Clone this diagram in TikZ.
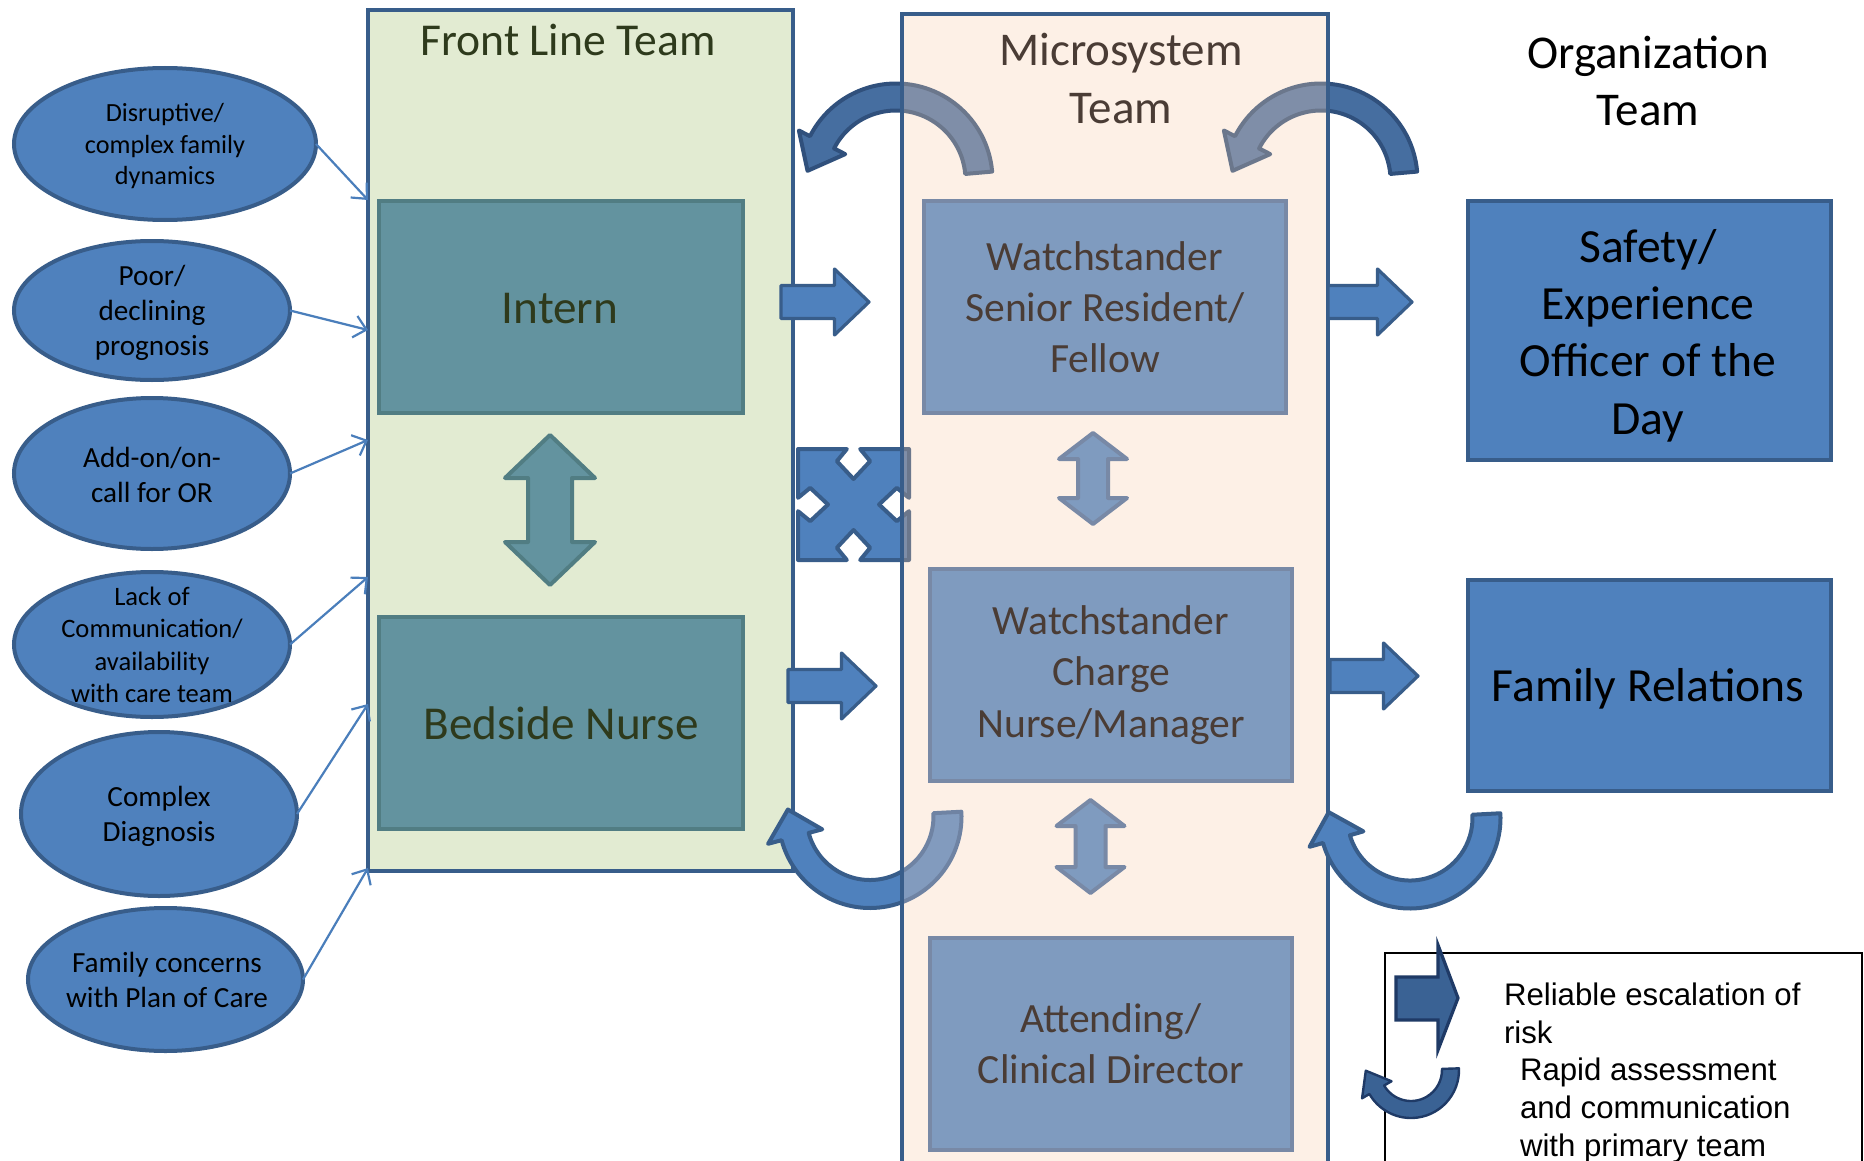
\documentclass[tikz,border=0pt]{standalone}
\usepackage{fontspec}
\setmainfont{Carlito}
\newfontfamily\arialfont{Liberation Sans}
\usetikzlibrary{shapes.geometric,arrows.meta,calc}

\definecolor{frontfill}{HTML}{E2EBD2}
\definecolor{microfill}{HTML}{FDF0E6}
\definecolor{boxblue}{HTML}{4F81BD}
\definecolor{edgeblue}{HTML}{385D8A}
\definecolor{darkarc}{HTML}{466EA0}
\definecolor{darkarcedge}{HTML}{30507C}
\definecolor{tealfill}{HTML}{63939F}
\definecolor{tealedge}{HTML}{517D83}
\definecolor{slatefill}{HTML}{7F9BBF}
\definecolor{slateedge}{HTML}{7889A6}
\definecolor{greyarc}{HTML}{7F8EA8}
\definecolor{greyarcedge}{HTML}{6B778C}
\definecolor{greylight}{HTML}{829BBE}
\definecolor{greylightedge}{HTML}{6F83A3}
\definecolor{olivetext}{HTML}{2E3A1C}
\definecolor{browntext}{HTML}{4A3C35}
\definecolor{connblue}{HTML}{4A7EBB}
\definecolor{legfill}{HTML}{3A6294}
\definecolor{legedge}{HTML}{1F3A66}

\tikzset{
  every node/.style={outer sep=0pt},
  frontbox/.style={rectangle, fill=frontfill, draw=edgeblue, line width=2pt},
  microbox/.style={rectangle, fill=microfill},
  tealbox/.style={rectangle, fill=tealfill, draw=tealedge, line width=2pt, text=olivetext,
    font=\fontsize{23.6}{28}\selectfont, minimum width=182pt, minimum height=106pt},
  slatebox/.style={rectangle, fill=slatefill, draw=slateedge, line width=2pt, text=browntext,
    align=center, font=\fontsize{20.8}{25.6}\selectfont, minimum width=181pt, minimum height=106pt},
  orgbox/.style={rectangle, fill=boxblue, draw=edgeblue, line width=2pt, minimum width=181.5pt},
  orgtext/.style={align=center, text=black, inner sep=0pt, font=\fontsize{23.8}{28.7}\selectfont},
  cause/.style={ellipse, fill=boxblue, draw=edgeblue, line width=2pt, inner sep=0pt},
  causetext/.style={align=center, text=black, inner sep=0pt},
  title/.style={align=center, inner sep=0pt},
  conn/.style={draw=connblue, line width=1.1pt, -{Straight Barb[length=6pt,width=11pt]}},
  blockstyle/.style={fill=boxblue, draw=edgeblue, line width=1.6pt, line join=round},
  arcdark/.style={fill=darkarc, draw=darkarcedge, line width=2pt, line join=round},
  arcblue/.style={fill=boxblue, draw=edgeblue, line width=2pt, line join=round},
  legtext/.style={anchor=base west, inner sep=0pt, font=\arialfont\fontsize{15.6}{18.8}\selectfont},
  % right-pointing block arrow: length, head length, head half-width, shaft half-width
  pics/rblk/.style n args={4}{code={
    \draw[pic actions] (0,-#4) -- ({#1-#2},-#4) -- ({#1-#2},-#3) -- (#1,0)
      -- ({#1-#2},#3) -- ({#1-#2},#4) -- (0,#4) -- cycle;}},
  % vertical double arrow: half-length, head half-width, head length, shaft half-width
  pics/vdbl/.style n args={4}{code={
    \draw[pic actions] (0,-#1) -- (#2,{-#1+#3}) -- (#4,{-#1+#3}) -- (#4,{#1-#3})
      -- (#2,{#1-#3}) -- (0,#1) -- (-#2,{#1-#3}) -- (-#4,{#1-#3})
      -- (-#4,{-#1+#3}) -- (-#2,{-#1+#3}) -- cycle;}},
  % curved arrow: start angle, end angle, mid radius, shaft half-width,
  % head half-width, head length, head direction
  pics/curv/.style n args={7}{code={
    \draw[pic actions] ({#1}:{#3+#4}) arc[start angle={#1}, end angle={#2}, radius={#3+#4}]
      -- ({#2}:{#3+#5}) -- ($({#2}:{#3})+({#7}:{#6})$) -- ({#2}:{#3-#5})
      -- ({#2}:{#3-#4}) arc[start angle={#2}, end angle={#1}, radius={#3-#4}] -- cycle;}},
  % four-way diagonal arrow in a unit square
  pics/quad/.style={code={
    \draw[pic actions] (0,0) -- (0.44,0) -- (0.35,0.11) -- (0.5,0.27) -- (0.65,0.11) -- (0.56,0)
      -- (1,0) -- (1,0.44) -- (0.89,0.35) -- (0.73,0.5) -- (0.89,0.65) -- (1,0.56)
      -- (1,1) -- (0.56,1) -- (0.65,0.89) -- (0.5,0.73) -- (0.35,0.89) -- (0.44,1)
      -- (0,1) -- (0,0.56) -- (0.11,0.65) -- (0.27,0.5) -- (0.11,0.35) -- (0,0.44) -- cycle;}},
}

\begin{document}
\begin{tikzpicture}[x=0.5pt,y=-0.5pt]
\useasboundingbox (0,0) rectangle (1864,1161);
\clip (0,0) rectangle (1864,1161);

% ---------- Front line team ----------
\node[frontbox, minimum width=212.5pt, minimum height=430.5pt] (front) at (580.5,440.5) {};
\node[title, text=olivetext, font=\fontsize{22.8}{27}\selectfont] (fronttitle) at (568,40) {Front Line Team};
\node[tealbox] (intern) at (561,307) {};
\node[title, text=olivetext, font=\fontsize{23.6}{28}\selectfont] (interntext) at (560,309) {Intern};
\node[tealbox] (nurse) at (561,723) {Bedside Nurse};
\pic[fill=tealfill, draw=tealedge, line width=2pt, line join=round] at (550,510) {vdbl={75}{45}{43}{22}};

% ---------- Contributing factors ----------
\node[cause, minimum width=151pt, minimum height=76pt] (e1) at (165,144) {};
\node[causetext, font=\fontsize{13.1}{15.75}\selectfont] (t1) at (165,146.5) {Disruptive/\\complex family\\dynamics};
\node[cause, minimum width=138pt, minimum height=69.5pt] (e2) at (152,310.5) {};
\node[causetext, font=\fontsize{14.6}{17.5}\selectfont] (t2) at (152,313) {Poor/\\declining\\prognosis};
\node[cause, minimum width=138pt, minimum height=75.5pt] (e3) at (152,473.5) {};
\node[causetext, font=\fontsize{14.6}{17.5}\selectfont] (t3) at (152,474.5) {Add-on/on-\\call for OR};
\node[cause, minimum width=138pt, minimum height=72.5pt] (e4) at (152,644.5) {};
\node[causetext, font=\fontsize{13.3}{16.2}\selectfont] (t4) at (152,645) {Lack of\\Communication/\\availability\\with care team};
\node[cause, minimum width=138pt, minimum height=82pt] (e5) at (159,814) {};
\node[causetext, font=\fontsize{14.6}{17.5}\selectfont] (t5) at (159,816) {Complex\\Diagnosis};
\node[cause, minimum width=137.5pt, minimum height=71.5pt] (e6) at (165.5,979.5) {};
\node[causetext, font=\fontsize{14.6}{17.5}\selectfont] (t6) at (167,980) {Family concerns\\with Plan of Care};

\coordinate (f1) at (368,200);
\coordinate (f2) at (368,330);
\coordinate (f3) at (368,440);
\coordinate (f4) at (368,577);
\coordinate (f5) at (368,704);
\coordinate (f6) at (368,868);
\draw[conn] (e1.east) -- (f1);
\draw[conn] (e2.east) -- (f2);
\draw[conn] (e3.east) -- (f3);
\draw[conn] (e4.east) -- (f4);
\draw[conn] (e5.east) -- (f5);
\draw[conn] (e6.east) -- (f6);

% ---------- Arrows between front line and microsystem ----------
\pic[blockstyle] at (781,302) {rblk={88}{34.5}{33}{16.5}};
\pic[blockstyle] at (788,686) {rblk={88}{34.5}{33}{16.5}};
\pic[arcdark] at (896,180) {curv={-5}{-153}{83}{13.5}{26}{32}{-243}};
\pic[arcdark] at (1321,180) {curv={-5}{-153}{83}{13.5}{26}{32}{-243}};
\pic[arcblue] at (870,816.5) {curv={-3}{165}{77.5}{14}{28}{28}{255}};
\pic[fill=boxblue, draw=edgeblue, line width=2pt, line join=round, scale=111] at (798,449) {quad};

% ---------- Microsystem team ----------
\node[microbox, minimum width=213pt, minimum height=583pt] (micro) at (1115,597) {};
\begin{scope}
  \clip (micro.north west) rectangle (micro.south east);
  \pic[fill=greyarc, draw=greyarcedge, line width=2pt, line join=round] at (896,180) {curv={-5}{-153}{83}{13.5}{26}{32}{-243}};
  \pic[fill=greyarc, draw=greyarcedge, line width=2pt, line join=round] at (1321,180) {curv={-5}{-153}{83}{13.5}{26}{32}{-243}};
  \pic[fill=greylight, draw=greylightedge, line width=2pt, line join=round] at (870,816.5) {curv={-3}{165}{77.5}{14}{28}{28}{255}};
  \pic[fill=greyarc, draw=greyarcedge, line width=2pt, line join=round, scale=111] at (798,449) {quad};
\end{scope}
\draw[edgeblue, line width=2pt] (micro.north west) rectangle (micro.south east);

\node[title, text=browntext, font=\fontsize{23.5}{29}\selectfont] (microtitle) at (1121,79) {Microsystem\\Team};
\node[slatebox] (senior) at (1105,307) {Watchstander\\Senior Resident/\\Fellow};
\node[slatebox] (charge) at (1111,675) {Watchstander\\Charge\\Nurse/Manager};
\node[slatebox] (attending) at (1111,1044) {Attending/\\Clinical Director};
\pic[fill=slatefill, draw=slateedge, line width=2pt, line join=round] at (1093,478.5) {vdbl={45.5}{34}{26}{15}};
\pic[fill=slatefill, draw=slateedge, line width=2pt, line join=round] at (1090.5,846.5) {vdbl={46.5}{34}{26}{15}};

% ---------- Organization team ----------
\pic[blockstyle] at (1328,302) {rblk={84}{34.5}{33}{16.5}};
\pic[blockstyle] at (1330,676) {rblk={88}{34.5}{33}{16.5}};
\node[title, text=black, font=\fontsize{23.5}{28.5}\selectfont] (orgtitle) at (1648,81) {Organization\\Team};
\node[orgbox, minimum height=129.5pt] (safety) at (1649.5,330.5) {};
\node[orgtext] (safetytext) at (1648,335.5) {Safety/\\Experience\\Officer of the\\Day};
\node[orgbox, minimum height=105.5pt] (relations) at (1649.5,685.5) {};
\node[orgtext] (relationstext) at (1648,689) {Family Relations};
\pic[arcblue] at (1410,818) {curv={-3}{164}{76.5}{14}{28}{28}{254}};

% ---------- Legend ----------
\node[draw=black, line width=1pt, minimum width=238.5pt, minimum height=113.5pt] (legend) at (1623.5,1066.5) {};
\draw[fill=legfill, draw=legedge, line width=1.6pt, line join=miter]
  (1396,977) -- (1438,977) -- (1438,945) -- (1458,998) -- (1438,1050) -- (1438,1020) -- (1396,1020) -- cycle;
\pic[fill=legfill, draw=legedge, line width=1.2pt, line join=round] at (1411,1070) {curv={-2}{150}{39.5}{8.5}{17}{22}{240}};
\node[legtext] (leg1) at (1504,1005) {Reliable escalation of};
\node[legtext] (leg2) at (1504,1043) {risk};
\node[legtext] (leg3) at (1520,1080) {Rapid assessment};
\node[legtext] (leg4) at (1520,1118) {and communication};
\node[legtext] (leg5) at (1520,1156) {with primary team};
\end{tikzpicture}
\end{document}
